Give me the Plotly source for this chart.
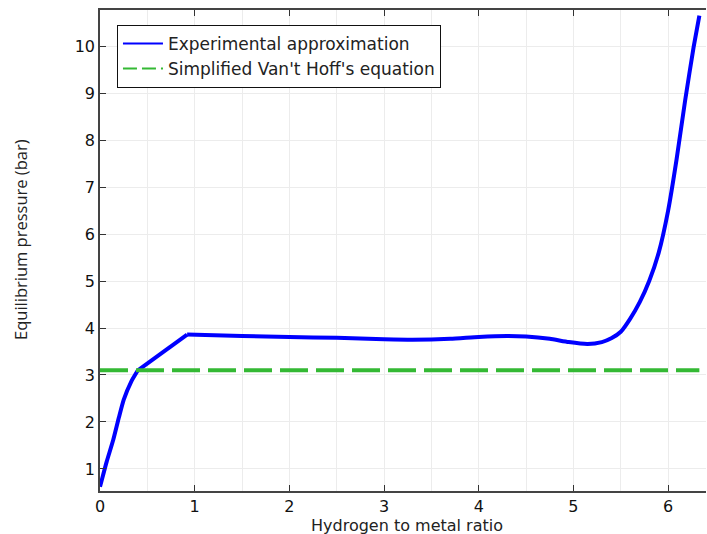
import plotly.graph_objects as go

# Experimental approximation curve
exp_x = [0, 0.07, 0.14, 0.2, 0.25, 0.33, 0.4, 0.92, 1.5, 2.0, 2.5, 3.0, 3.3, 3.7, 4.0, 4.3, 4.5,
         4.75, 4.95, 5.15, 5.3, 5.4, 5.5, 5.6, 5.7, 5.8, 5.9, 6.0, 6.09, 6.18, 6.27, 6.33]
exp_y = [0.62, 1.15, 1.62, 2.1, 2.47, 2.86, 3.1, 3.86, 3.83, 3.81, 3.79, 3.76, 3.75, 3.77, 3.81, 3.83, 3.82,
         3.77, 3.70, 3.66, 3.70, 3.78, 3.92, 4.2, 4.55, 5.0, 5.6, 6.5, 7.6, 8.85, 9.99, 10.65]

# Simplified Van't Hoff's equation (constant)
vh_x = [0, 6.33]
vh_y = [3.1, 3.1]

x_ticks = [0, 1, 2, 3, 4, 5, 6]
y_ticks = [1, 2, 3, 4, 5, 6, 7, 8, 9, 10]

names = ["Experimental approximation", "Simplified Van't Hoff's equation"]
blue = "#0000ff"
green = "rgb(52,185,52)"

# curve pieces: smooth start, straight segment, smooth remainder (kinks at 0.4 and 0.92)
k1 = exp_x.index(0.4)
k2 = exp_x.index(0.92)
pieces = [(0, k1 + 1, "spline"), (k1, k2 + 1, "linear"), (k2, len(exp_x), "spline")]

fig = go.Figure()
for a, b, shape in pieces:
    line = dict(color=blue, width=4, shape=shape)
    if shape == "spline":
        line["smoothing"] = 0.5
    fig.add_trace(go.Scatter(x=exp_x[a:b], y=exp_y[a:b], mode="lines", showlegend=False, line=line))
fig.add_trace(go.Scatter(x=vh_x, y=vh_y, mode="lines", showlegend=False,
                         line=dict(color=green, width=4, dash="28px,8px")))
# legend entries with thinner sample lines
fig.add_trace(go.Scatter(x=[None], y=[None], mode="lines", name=names[0],
                         line=dict(color=blue, width=2)))
fig.add_trace(go.Scatter(x=[None], y=[None], mode="lines", name=names[1],
                         line=dict(color=green, width=2, dash="14px,5px")))

font = "DejaVu Sans, sans-serif"
fig.update_layout(
    width=707, height=534,
    margin=dict(l=100, r=1, t=10, b=43),
    paper_bgcolor="white", plot_bgcolor="white",
    font=dict(family=font, size=16, color="#111"),
    showlegend=True,
    legend=dict(x=0.028, y=0.969, xanchor="left", yanchor="top",
                bgcolor="white", bordercolor="#111", borderwidth=1,
                font=dict(family=font, size=17, color="#222"),
                tracegroupgap=4, itemwidth=40),
    xaxis=dict(range=[0, 6.4], tickvals=x_ticks, ticks="inside", ticklen=6, tickcolor="#333",
               showline=True, linecolor="#444", linewidth=1.5, mirror="ticks",
               showgrid=True, gridcolor="#ececec", gridwidth=1, zeroline=False,
               minor=dict(dtick=0.5, showgrid=True, gridcolor="#ececec"),
               tickfont=dict(family=font, size=16), automargin=False),
    yaxis=dict(range=[0.53, 10.77], tickvals=y_ticks, ticks="inside", ticklen=6, tickcolor="#333",
               showline=True, linecolor="#444", linewidth=1.5, mirror=False,
               showgrid=True, gridcolor="#ececec", gridwidth=1, zeroline=False,
               tickfont=dict(family=font, size=16), automargin=False),
    annotations=[
        dict(text="Hydrogen to metal ratio", xref="paper", yref="paper",
             x=(407 - 100) / 606, y=-(525 - 491) / 481, xanchor="center", yanchor="middle",
             showarrow=False, font=dict(family=font, size=16, color="#222")),
        dict(text="Equilibrium pressure (bar)", xref="paper", yref="paper", textangle=-90,
             x=-(100 - 20) / 606, y=(491 - 240) / 481, xanchor="center", yanchor="middle",
             showarrow=False, font=dict(family="Open Sans, sans-serif", size=16.5, color="#222")),
    ],
)

fig.write_html("out.html", config={"displayModeBar": False},
               post_script="document.body.style.margin='0';document.body.style.overflow='hidden';")
